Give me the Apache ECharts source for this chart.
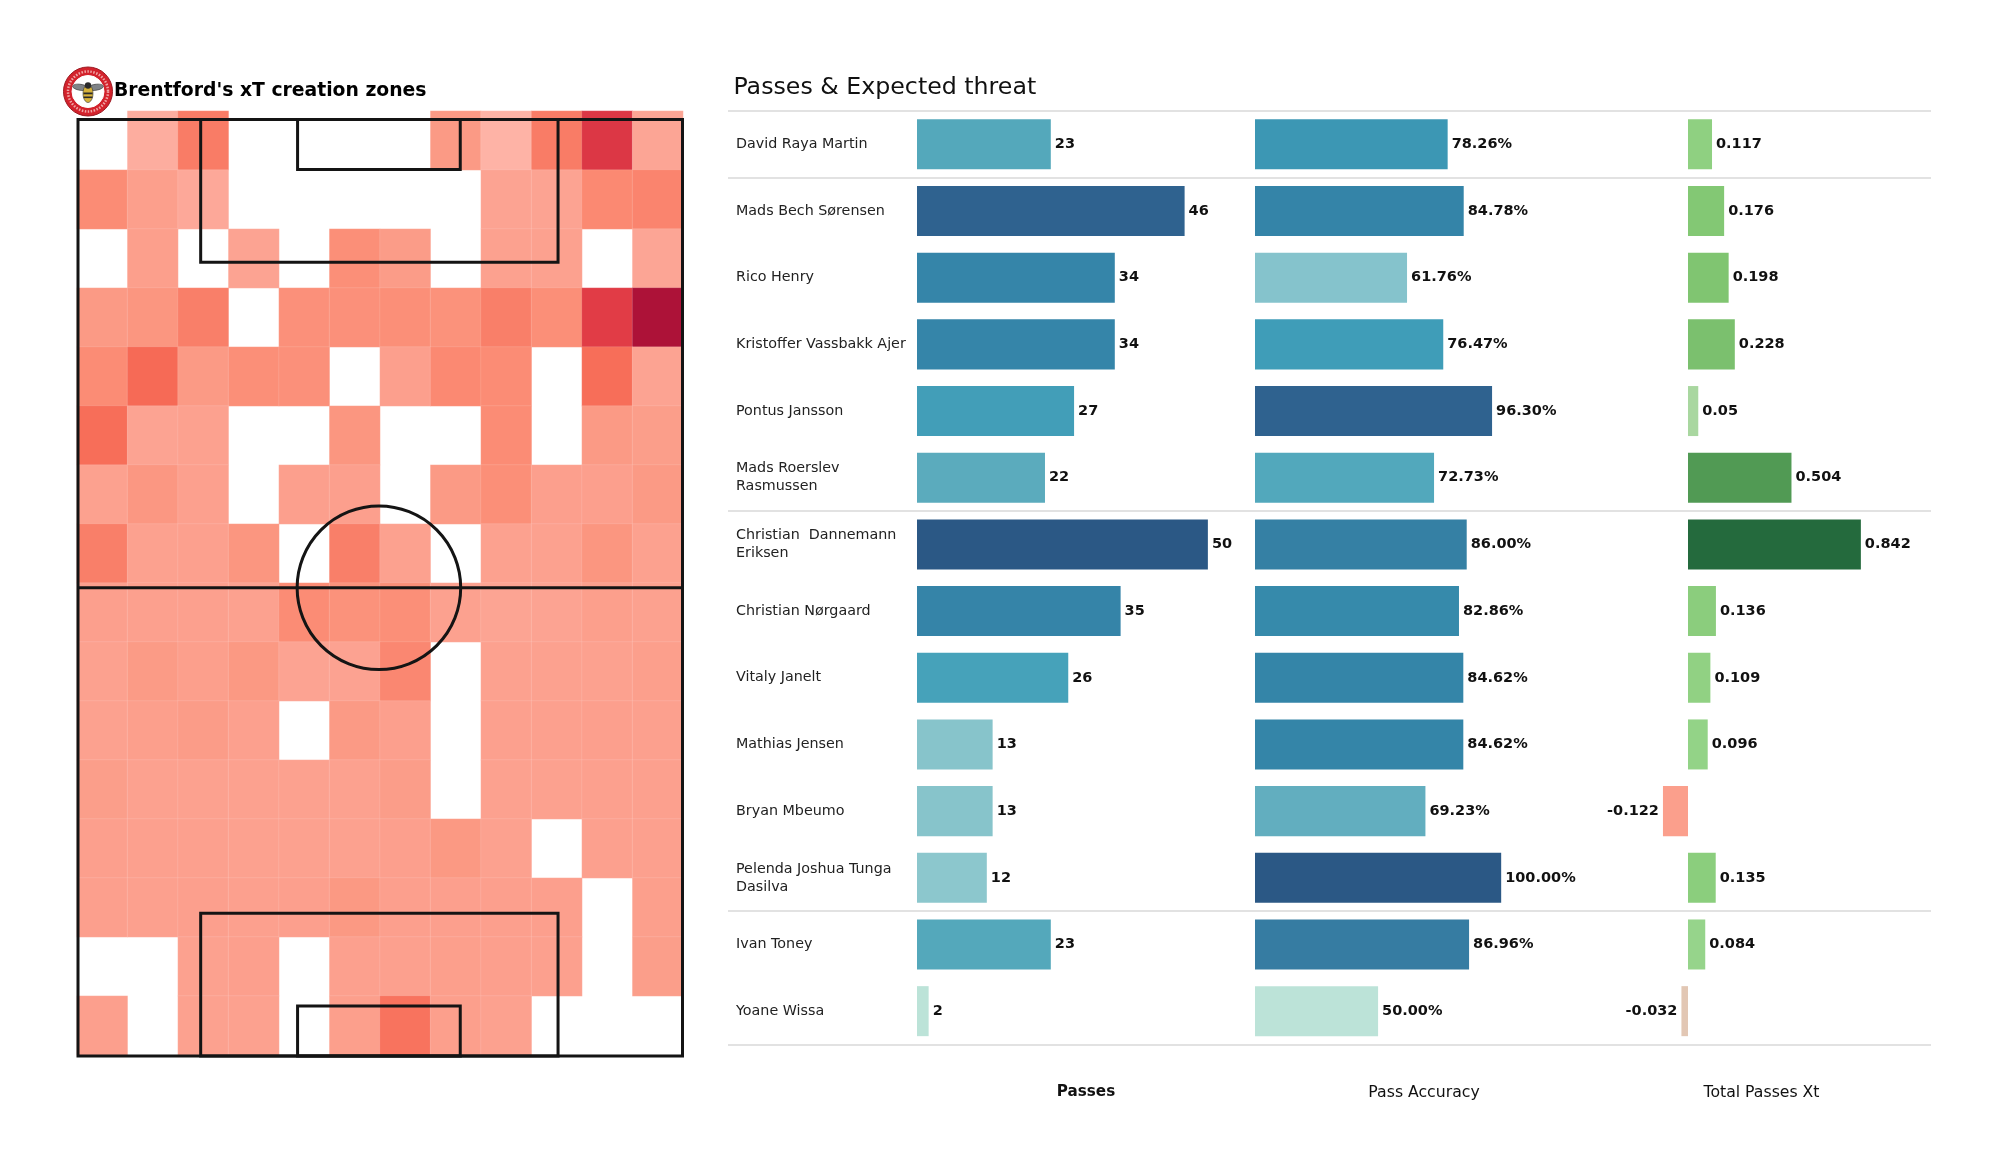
<!DOCTYPE html>
<html><head><meta charset="utf-8">
<script src="https://cdn.jsdelivr.net/npm/echarts@6/dist/echarts.min.js"></script>
<style>html,body{margin:0;padding:0;background:#fff}#c{width:2000px;height:1175px}</style>
</head><body><div id="c"></div>
<script>
const players = ['David Raya Martin','Mads Bech Sørensen','Rico Henry','Kristoffer Vassbakk Ajer','Pontus Jansson','Mads Roerslev\nRasmussen','Christian  Dannemann\nEriksen','Christian Nørgaard','Vitaly Janelt','Mathias Jensen','Bryan Mbeumo','Pelenda Joshua Tunga\nDasilva','Ivan Toney','Yoane Wissa'];
const passes = [23,46,34,34,27,22,50,35,26,13,13,12,23,2];
const accuracy = [78.26,84.78,61.76,76.47,96.30,72.73,86.00,82.86,84.62,84.62,69.23,100.00,86.96,50.00];
const totalXt = [0.117,0.176,0.198,0.228,0.05,0.504,0.842,0.136,0.109,0.096,-0.122,0.135,0.084,-0.032];
const sectionBreaks = [0,1,6,12,14];
const _ = null;
const heatRows = [
 [_,10,50,_,_,_,_,30,5,50,82,18],
 [40,25,15,_,_,_,_,_,20,20,42,45],
 [_,25,_,20,_,38,28,_,22,22,_,18],
 [30,33,48,_,37,37,38,36,48,38,80,100],
 [40,60,30,38,37,_,24,42,40,_,58,20],
 [58,20,22,_,_,33,_,_,40,_,30,26],
 [22,32,23,_,24,24,_,30,38,24,24,30],
 [48,22,23,33,_,48,22,_,22,22,33,22],
 [24,23,23,22,40,36,38,22,19,20,25,22],
 [22,29,25,31,20,21,43,_,22,22,22,25],
 [22,25,28,23,_,30,24,_,23,23,24,23],
 [26,22,22,22,22,22,27,_,22,22,23,23],
 [24,23,23,22,22,22,24,31,22,_,23,23],
 [24,23,24,23,24,31,24,24,24,24,_,25],
 [_,_,22,24,_,23,23,25,24,23,_,26],
 [24,_,22,22,_,25,55,25,22,_,_,_]
];
const heatCols = ['1','2','3','4','5','6','7','8','9','10','11','12'];
const heatRowNames = ['1','2','3','4','5','6','7','8','9','10','11','12','13','14','15','16'];
// pitch furniture, in metres
const pitchRects = [[0,0,68,105],[13.8,0,54,16],[24.7,0,43,5.6],[13.8,89,54,105],[24.7,99.4,43,105]];
const halfwayLine = [[0,52.5],[68,52.5]];
const centreCircle = [[33.85,52.5,9.2]];

const passStops = [[2,'#bce3d8'],[12,'#8cc7cd'],[13,'#87c4cb'],[22,'#5babbd'],[23,'#54a8bb'],[26,'#46a2ba'],[27,'#429eb8'],[34,'#3585a9'],[35,'#3584a8'],[46,'#2f628f'],[50,'#2b5885']];
const accStops = [[50,'#bce3d8'],[61.76,'#85c3cc'],[69.23,'#62aebf'],[72.73,'#52a8bc'],[76.47,'#3f9db8'],[78.26,'#3c97b4'],[84.6,'#3485a8'],[86.96,'#367ca2'],[96.3,'#2f628f'],[100,'#2b5885']];
const xtStops = [[-0.122,'#fb9f8c'],[-0.032,'#e2c7b4'],[0.05,'#a9d7a0'],[0.084,'#96d48b'],[0.117,'#8fd081'],[0.176,'#83c874'],[0.228,'#7bc06e'],[0.504,'#519a54'],[0.842,'#246a3d']];
const heatRamp = ['#feb8ac','#fdad9f','#fca392','#fb9a85','#fb8c75','#f97c66','#f66a56','#ee5550','#e13c46','#c82540','#ad1238'];

function ramp(stops, v){
  for(let i=1;i<stops.length;i++){
    if(v<=stops[i][0]){
      const t=(v-stops[i-1][0])/(stops[i][0]-stops[i-1][0]);
      return echarts.color.lerp(Math.max(0,t),[stops[i-1][1],stops[i][1]]);
    }
  }
  return stops[stops.length-1][1];
}
const FONT='"DejaVu Sans"';
const chart = echarts.init(document.getElementById('c'),null,{renderer:'canvas'});

const heatData=[];
heatRows.forEach((r,y)=>r.forEach((v,x)=>{ if(v!==null) heatData.push([x,y,v]); }));

const G_TOP=111, G_H=933.5;
function barX(i,min,max,name,bold){
  return {gridIndex:i,type:'value',min,max,axisLine:{show:false},axisTick:{show:false},axisLabel:{show:false},splitLine:{show:false},
    name,nameLocation:'middle',nameGap:40.5,nameTextStyle:{fontFamily:FONT,fontSize:bold?15.2:15.7,color:'#111',fontWeight:bold?'bold':'normal'}};
}
function barY(i,showLabels){
  return {gridIndex:i,type:'category',data:players,inverse:true,axisLine:{show:false},axisTick:{show:false},splitLine:{show:false},
    axisLabel:showLabels?{show:true,interval:0,align:'left',margin:181,fontFamily:FONT,fontSize:14.3,lineHeight:18,color:'#222',padding:[3,0,0,0]}:{show:false}};
}
function barSeries(i,vals,stops,fmt){
  return {type:'bar',xAxisIndex:i,yAxisIndex:i,barWidth:'75%',silent:true,
    data:vals.map(v=>({value:v,itemStyle:{color:ramp(stops,v)},label:{position:v<0?'left':'right'}})),
    label:{show:true,fontFamily:FONT,fontWeight:'bold',fontSize:14.5,color:'#111',distance:4,formatter:p=>fmt(p.value)}};
}
chart.setOption({
  animation:false,backgroundColor:'#fff',
  title:[
    {text:"Brentford's xT creation zones",left:109,top:77,textStyle:{fontFamily:FONT,fontWeight:'bold',fontSize:18.8,color:'#000'}},
    {text:'Passes & Expected threat',left:728.4,top:71,textStyle:{fontFamily:FONT,fontWeight:'normal',fontSize:23.7,color:'#111'}}
  ],
  grid:[
    {left:917,top:G_TOP,width:338,height:G_H},
    {left:1255,top:G_TOP,width:338,height:G_H},
    {left:1592,top:G_TOP,width:339,height:G_H},
    {left:728,top:G_TOP,width:1203,height:G_H},
    {left:77,top:111,width:606,height:944},
    {left:78,top:119.5,width:604.5,height:936.5}
  ],
  xAxis:[
    barX(0,0,58.1,'Passes',true),
    barX(1,0,137.3,'Pass Accuracy',false),
    barX(2,-0.4676,1.1836,'Total Passes Xt',false),
    {gridIndex:3,type:'value',min:0,max:1,show:false},
    {gridIndex:4,type:'category',data:heatCols,show:false},
    {gridIndex:5,type:'value',min:0,max:68,show:false}
  ],
  yAxis:[
    barY(0,true),barY(1,false),barY(2,false),
    {gridIndex:3,type:'value',min:0,max:14,inverse:true,show:false},
    {gridIndex:4,type:'category',data:heatRowNames,inverse:true,show:false},
    {gridIndex:5,type:'value',min:0,max:105,inverse:true,show:false}
  ],
  visualMap:[{type:'continuous',show:false,seriesIndex:4,dimension:2,min:0,max:100,inRange:{color:heatRamp}}],
  series:[
    barSeries(0,passes,passStops,v=>String(v)),
    barSeries(1,accuracy,accStops,v=>v.toFixed(2)+'%'),
    barSeries(2,totalXt,xtStops,v=>String(v)),
    {type:'line',xAxisIndex:3,yAxisIndex:3,data:[],silent:true,
      markLine:{silent:true,symbol:'none',label:{show:false},lineStyle:{color:'#d8d8d8',width:1.5,type:'solid'},
        data:sectionBreaks.map(b=>[{coord:[0,b]},{coord:[1,b]}])}},
    {type:'heatmap',xAxisIndex:4,yAxisIndex:4,data:heatData,silent:true,itemStyle:{borderColor:'rgba(255,255,255,0.12)',borderWidth:1}},
    {type:'custom',xAxisIndex:5,yAxisIndex:5,silent:true,z:5,data:pitchRects,coordinateSystem:'cartesian2d',
      encode:{x:[0,2],y:[1,3]},
      renderItem:(p,api)=>{
        const a=api.coord([api.value(0),api.value(1)]),b=api.coord([api.value(2),api.value(3)]);
        return {type:'rect',shape:{x:a[0],y:a[1],width:b[0]-a[0],height:b[1]-a[1]},style:{fill:'none',stroke:'#141414',lineWidth:3}};
      }},
    {type:'line',xAxisIndex:5,yAxisIndex:5,silent:true,z:5,data:halfwayLine,showSymbol:false,lineStyle:{color:'#141414',width:3}},
    {type:'custom',xAxisIndex:5,yAxisIndex:5,silent:true,z:5,data:centreCircle,coordinateSystem:'cartesian2d',
      encode:{x:0,y:1},
      renderItem:(p,api)=>{
        const c=api.coord([api.value(0),api.value(1)]);
        const r=api.size([api.value(2),0])[0];
        return {type:'circle',shape:{cx:c[0],cy:c[1],r},style:{fill:'none',stroke:'#141414',lineWidth:3}};
      }}
  ],
  graphic:[{type:'group',x:88,y:91.5,z:10,silent:true,children:[
    {type:'circle',shape:{r:24.5},style:{fill:'#d3222c',stroke:'#9c1a22',lineWidth:1}},
    {type:'circle',shape:{r:20},style:{fill:'none',stroke:'#f0a5a5',lineWidth:2.5,lineDash:[1.5,1.5]}},
    {type:'circle',shape:{r:16},style:{fill:'#fff',stroke:'#fff',lineWidth:1}},
    {type:'ellipse',shape:{cx:-8,cy:-3,rx:8,ry:3},rotation:-0.15,style:{fill:'#7f8387',stroke:'#333',lineWidth:0.6}},
    {type:'ellipse',shape:{cx:8,cy:-3,rx:8,ry:3},rotation:0.15,style:{fill:'#7f8387',stroke:'#333',lineWidth:0.6}},
    {type:'ellipse',shape:{cx:0,cy:2,rx:5,ry:9},style:{fill:'#d6b23a',stroke:'#333',lineWidth:0.6}},
    {type:'rect',shape:{x:-4.6,y:1,width:9.2,height:1.8},style:{fill:'#2a2a2a'}},
    {type:'rect',shape:{x:-4.4,y:5,width:8.8,height:1.6},style:{fill:'#2a2a2a'}},
    {type:'circle',shape:{cx:0,cy:-6,r:3.2},style:{fill:'#2a2a2a'}}
  ]}]
});
</script></body></html>
